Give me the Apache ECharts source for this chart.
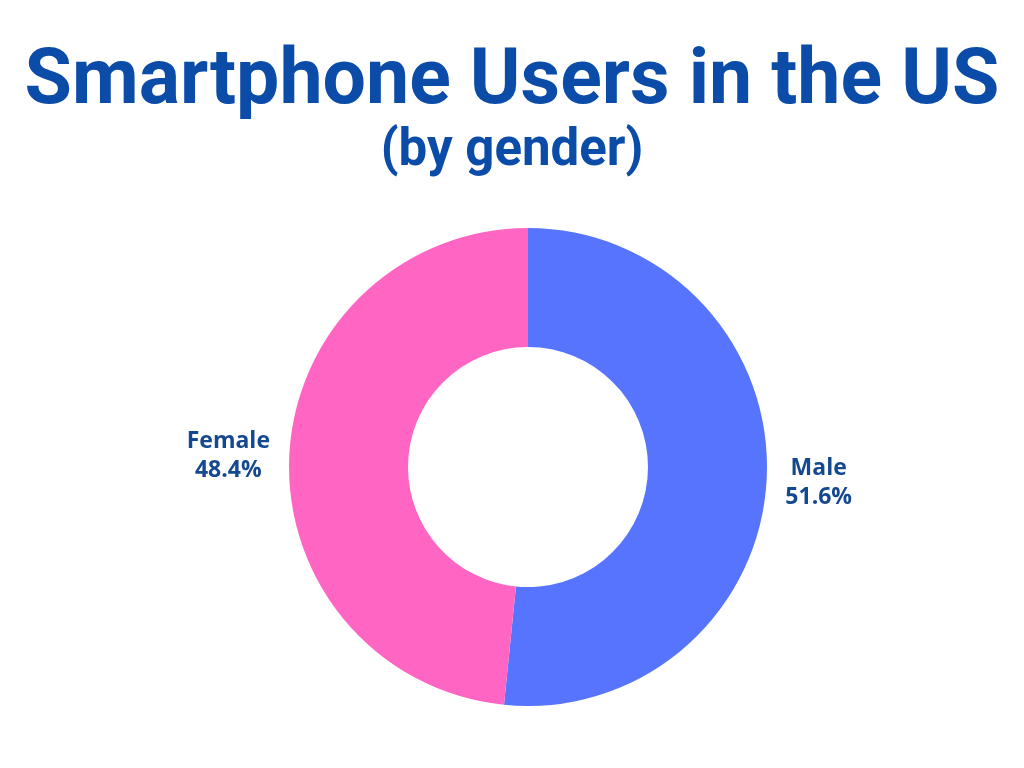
<!DOCTYPE html>
<html>
<head>
<meta charset="utf-8">
<script src="https://cdn.jsdelivr.net/npm/echarts@6/dist/echarts.min.js"></script>
<style>
  html, body { margin: 0; padding: 0; background: #fff; }
  #main { width: 1024px; height: 768px; }
</style>
</head>
<body>
<div id="main"></div>
<script>
var genders = ['Male', 'Female'];
var shares = [51.6, 48.4];
var sliceColors = ['#5674FE', '#FF66C4'];

var myChart = echarts.init(document.getElementById('main'));

// label gap / nudge differ a bit per side in the reference
var gaps = [2, 11];
var nudges = [[0, 4], [0, 2]];
var pieData = [];
for (var i = 0; i < genders.length; i++) {
    pieData.push({
        name: genders[i],
        value: shares[i],
        itemStyle: { color: sliceColors[i] },
        label: { offset: nudges[i] },
        labelLine: { show: false, length: gaps[i], length2: 0 }
    });
}

var option = {
    backgroundColor: '#ffffff',
    title: [{
        text: 'Smartphone Users in the US',
        left: 'center',
        top: 40,
        textStyle: {
            fontFamily: 'Roboto',
            fontWeight: 'bold',
            fontSize: 77,
            color: '#0B4CA9'
        }
    }, {
        text: '(by gender)',
        left: 'center',
        top: 122,
        textStyle: {
            fontFamily: 'Roboto',
            fontWeight: 'bold',
            fontSize: 51,
            color: '#0B4CA9'
        }
    }],
    series: [{
        type: 'pie',
        center: [528, 467],
        radius: [120, 239],
        startAngle: 90,
        clockwise: true,
        silent: true,
        label: {
            show: true,
            position: 'outside',
            formatter: function (p) {
                return '{t|' + p.name + '}\n{t|' + p.value.toFixed(1) + '%}';
            },
            rich: {
                t: {
                    fontFamily: 'Open Sans',
                    fontWeight: 'bold',
                    fontSize: 23,
                    lineHeight: 29,
                    color: '#15498F',
                    align: 'center',
                    width: 90
                }
            }
        },
        labelLine: { show: false, length: 10, length2: 0 },
        data: pieData
    }]
};

myChart.setOption(option);
</script>
</body>
</html>
